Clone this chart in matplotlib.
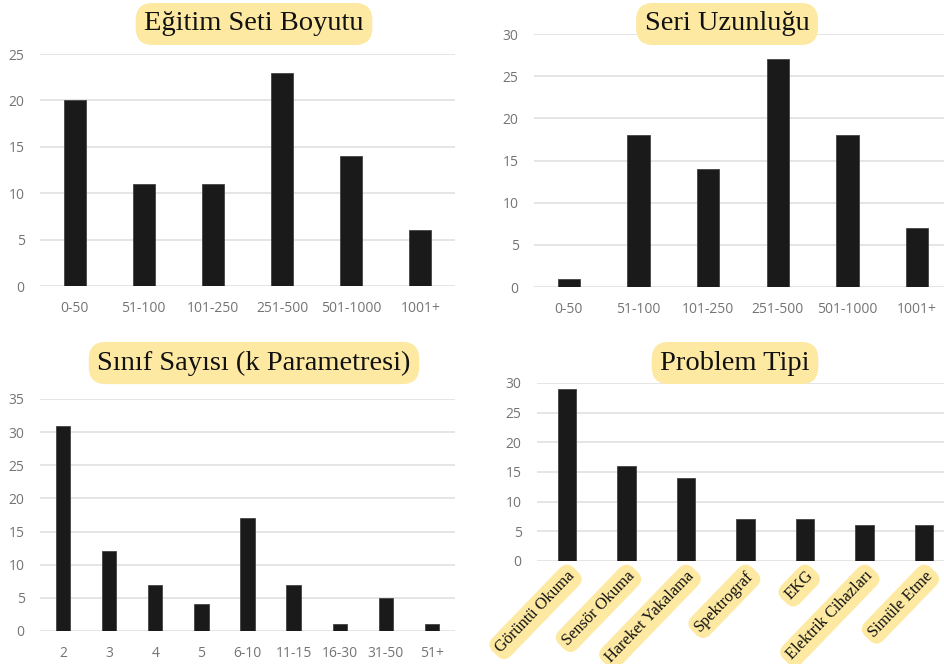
import matplotlib
matplotlib.use("Agg")
import matplotlib.pyplot as plt

# ---- data ----
size_cats = ["0-50", "51-100", "101-250", "251-500", "501-1000", "1001+"]
train_size = [20, 11, 11, 23, 14, 6]
series_len = [1, 18, 14, 27, 18, 7]

class_cats = ["2", "3", "4", "5", "6-10", "11-15", "16-30", "31-50", "51+"]
class_counts = [31, 12, 7, 4, 17, 7, 1, 5, 1]

problem_cats = ["Görüntü Okuma", "Sensör Okuma", "Hareket Yakalama", "Spektrograf",
                "EKG", "Elektrik Cihazları", "Simüle Etme"]
problem_counts = [29, 16, 14, 7, 7, 6, 6]

titles = ["Eğitim Seti Boyutu", "Seri Uzunluğu", "Sınıf Sayısı (k Parametresi)", "Problem Tipi"]

W, H = 944, 664
fig = plt.figure(figsize=(W / 100, H / 100), dpi=100)
fig.patch.set_facecolor("white")

BAR = "#1a1a1a"
GRID = "#e3e3e3"
TICK = "#747474"
BOX = "#fde9a2"
SANS = ["Open Sans", "DejaVu Sans"]
SERIF = ["Liberation Serif", "DejaVu Serif"]


def px_axes(l, r, b, t):
    return fig.add_axes([l / W, 1 - b / H, (r - l) / W, (b - t) / H])


def style(ax, ymax, step=5):
    ax.set_ylim(0, ymax)
    ax.set_yticks(range(0, ymax + 1, step))
    ax.grid(axis="y", color=GRID, linewidth=1.3, zorder=0)
    ax.set_axisbelow(True)
    for s in ax.spines.values():
        s.set_visible(False)
    ax.tick_params(axis="both", length=0, labelsize=10, labelcolor=TICK, pad=11)
    for lab in ax.get_yticklabels():
        lab.set_family(SANS)


def bars(ax, cats, vals, width):
    x = range(len(cats))
    ax.bar(x, vals, width=width, color=BAR, edgecolor="#444444", linewidth=0.6, zorder=3)
    ax.set_xlim(-0.5, len(cats) - 0.5)


# Panel 1
ax1 = px_axes(40, 455, 286, 54)
bars(ax1, size_cats, train_size, 0.32)
style(ax1, 25)
ax1.set_xticks(range(len(size_cats)))
ax1.set_xticklabels(size_cats, family=SANS)

# Panel 2
ax2 = px_axes(534, 952, 287, 34)
bars(ax2, size_cats, series_len, 0.32)
style(ax2, 30)
ax2.set_xticks(range(len(size_cats)))
ax2.set_xticklabels(size_cats, family=SANS)

# Panel 3
ax3 = px_axes(40, 455, 631, 399)
bars(ax3, class_cats, class_counts, 0.31)
style(ax3, 35)
ax3.set_xticks(range(len(class_cats)))
ax3.set_xticklabels(class_cats, family=SANS)

# Panel 4
ax4 = px_axes(537, 954, 561, 383)
bars(ax4, problem_cats, problem_counts, 0.31)
style(ax4, 30)
ax4.set_xticks(range(len(problem_cats)))
ax4.set_xticklabels(problem_cats, rotation=46, ha="right", va="top",
                    rotation_mode="anchor", family=SERIF, fontsize=11.8,
                    color="#111111")
ax4.tick_params(axis="x", pad=5)
for lab in ax4.get_xticklabels():
    lab.set_bbox(dict(boxstyle="round,pad=0.3,rounding_size=0.6",
                      facecolor=BOX, edgecolor="none"))

# Titles
title_pos = [(254, 24), (727, 24), (254, 363), (735, 363)]
for t, (x, y) in zip(titles, title_pos):
    fig.text(x / W, 1 - y / H, t, ha="center", va="center", family=SERIF,
             fontsize=20.5, color="#111111",
             bbox=dict(boxstyle="round,pad=0.3,rounding_size=0.6",
                       facecolor=BOX, edgecolor="none"))

fig.savefig("out.png", dpi=100, facecolor="white")
